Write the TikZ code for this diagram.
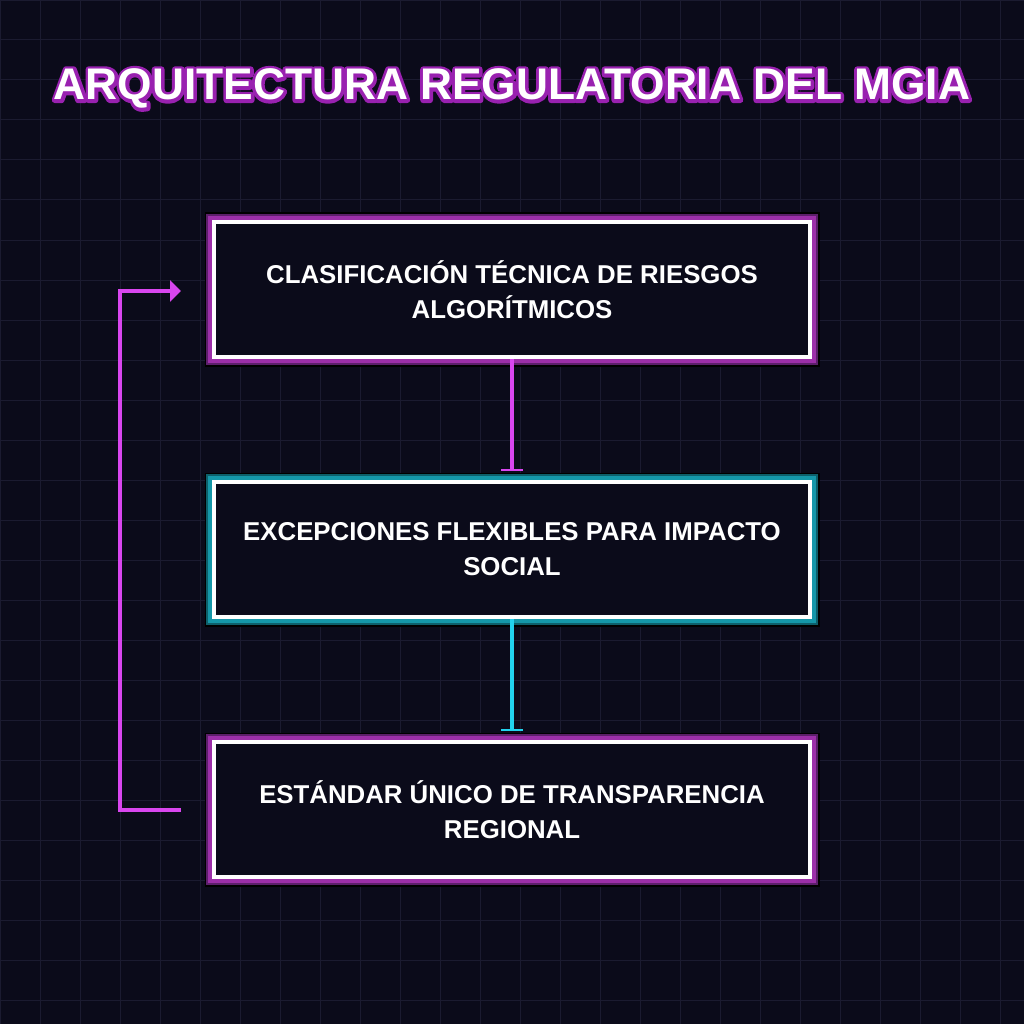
\documentclass[tikz,border=0pt]{standalone}
\usepackage{fontspec}
\setmainfont{Liberation Sans}
\usetikzlibrary{arrows.meta}

\definecolor{bgdark}{HTML}{0B0B1A}
\definecolor{gridcol}{HTML}{1B1B30}
\definecolor{neonpink}{HTML}{D946EF}
\definecolor{neoncyan}{HTML}{22D3EE}
\definecolor{glowpink}{HTML}{9C2FA8}
\definecolor{glowpinkdark}{HTML}{5C1F6A}
\definecolor{glowteal}{HTML}{1597A8}
\definecolor{glowtealdark}{HTML}{0D5F6A}

% outlined title text (stroke only, then plain fill on top)
\newcommand{\strokedtext}[2]{\special{pdf:literal 1 Tr #1 w 1 j 0.60 0.13 0.69 RG}#2\special{pdf:literal 0 Tr 1 w 0 j}}

\begin{document}
\begin{tikzpicture}[
    x=1pt, y=-1pt,
    stage/.style={rectangle, draw=white, line width=4pt, fill=bgdark,
        minimum width=596pt, minimum height=135pt, align=center,
        text=white, font=\fontsize{25.8}{35}\selectfont\bfseries},
    pinkglow/.style={preaction={draw=black, line width=19pt},
        preaction={draw=glowpinkdark, line width=16pt},
        preaction={draw=glowpink, line width=12pt}},
    tealglow/.style={preaction={draw=black, line width=19pt},
        preaction={draw=glowtealdark, line width=16pt},
        preaction={draw=glowteal, line width=12pt}},
    flowline/.style={line width=4pt, shorten >=9pt, -{Bar[width=22pt, line width=2.5pt]}},
    loopline/.style={draw=neonpink, line width=4pt, -{Triangle[width=21pt, length=11pt]}},
    titletext/.style={text=white, anchor=base, font=\fontsize{44.3}{50}\selectfont\bfseries}
]
% Background and grid
\useasboundingbox (0,0) rectangle (1024,1024);
\fill[bgdark] (0,0) rectangle (1024,1024);
\draw[gridcol, line width=1pt] (0,0) grid[step=40pt] (1024,1024);

% Title
\node[titletext] (titleglow) at (512,100) {\strokedtext{6.4}{ARQUITECTURA REGULATORIA DEL MGIA}};
\node[titletext] (title) at (512,100) {ARQUITECTURA REGULATORIA DEL MGIA};

% Stages
\node[stage, pinkglow] (box1) at (512,289.5) {CLASIFICACIÓN TÉCNICA DE RIESGOS\\ALGORÍTMICOS};
\node[stage, tealglow] (box2) at (512,549.5) {EXCEPCIONES FLEXIBLES PARA IMPACTO\\SOCIAL};
\node[stage, pinkglow] (box3) at (512,809.5) {ESTÁNDAR ÚNICO DE TRANSPARENCIA\\REGIONAL};

% Connectors
\draw[flowline, neonpink] (box1.south) -- (box2.north);
\draw[flowline, neoncyan] (box2.south) -- (box3.north);

% Feedback loop
\coordinate (loopstart) at ([xshift=-31pt]box3.west);
\coordinate (loopend) at ([xshift=-31pt, yshift=-1.5pt]box1.west);
\draw[loopline] (loopstart) -- ++(-61,0) |- (loopend);
\end{tikzpicture}
\end{document}
